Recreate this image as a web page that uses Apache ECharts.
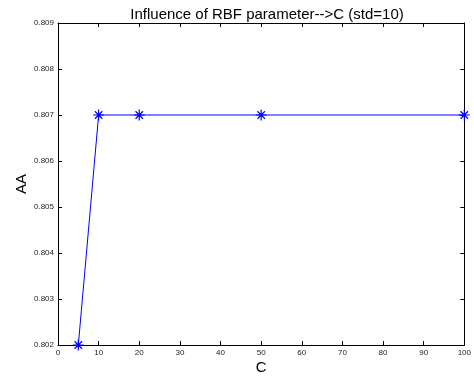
<!DOCTYPE html>
<html>
<head>
<meta charset="utf-8">
<script src="https://cdn.jsdelivr.net/npm/echarts@6/dist/echarts.min.js"></script>
<style>html,body{margin:0;padding:0;background:#fff}#c{width:474px;height:380px}</style>
</head>
<body>
<div id="c"></div>
<script>
const cValues = [5, 10, 20, 50, 100];
const aaValues = [0.802, 0.807, 0.807, 0.807, 0.807];
const xTicks = {min: 0, max: 100, interval: 10};
const yTicks = {min: 0.802, max: 0.809, interval: 0.001};
const titleText = 'Influence of RBF parameter-->C (std=10)';

const chart = echarts.init(document.getElementById('c'), null, {renderer: 'canvas'});
const font = 'Liberation Sans, Arial, Helvetica, sans-serif';
const star = 'path://M0 5 L10 5 M5 0 L5 10 M1.6 1.6 L8.4 8.4 M8.4 1.6 L1.6 8.4';
const tickIn = {show: true, inside: true, length: 4, lineStyle: {color: '#000', width: 1}};
const axisLine = {show: true, onZero: false, lineStyle: {color: '#000', width: 1}};
chart.setOption({
  backgroundColor: '#fff',
  animation: false,
  title: {
    text: titleText, left: 262, top: 2, textAlign: 'center',
    textStyle: {fontFamily: font, fontSize: 15, fontWeight: 'normal', color: '#000'}
  },
  grid: {left: 58, right: 7, top: 23, bottom: 34},
  xAxis: [{
    type: 'value', position: 'bottom', min: xTicks.min, max: xTicks.max, interval: xTicks.interval,
    name: 'C', nameLocation: 'middle', nameGap: 15, nameMoveOverlap: false,
    nameTextStyle: {fontFamily: font, fontSize: 15, color: '#000'},
    axisLine: axisLine, axisTick: tickIn, splitLine: {show: false},
    axisLabel: {fontFamily: font, fontSize: 8, color: '#222', margin: 4}
  }, {
    type: 'value', position: 'top', min: xTicks.min, max: xTicks.max, interval: xTicks.interval,
    axisLine: axisLine, axisTick: tickIn, splitLine: {show: false}, axisLabel: {show: false}
  }],
  yAxis: [{
    type: 'value', position: 'left', min: yTicks.min, max: yTicks.max, interval: yTicks.interval,
    name: 'AA', nameLocation: 'middle', nameGap: 29, nameMoveOverlap: false,
    nameTextStyle: {fontFamily: font, fontSize: 15, color: '#000'},
    axisLine: axisLine, axisTick: tickIn, splitLine: {show: false},
    axisLabel: {fontFamily: font, fontSize: 8, color: '#222', margin: 4, formatter: v => v.toFixed(3)}
  }, {
    type: 'value', position: 'right', min: yTicks.min, max: yTicks.max, interval: yTicks.interval,
    axisLine: axisLine, axisTick: tickIn, splitLine: {show: false}, axisLabel: {show: false}
  }],
  series: [{
    type: 'line', xAxisIndex: 0, yAxisIndex: 0,
    data: cValues.map((c, i) => [c, aaValues[i]]),
    clip: false,
    lineStyle: {color: '#0000ff', width: 1},
    symbol: star, symbolSize: 11,
    itemStyle: {color: 'none', borderColor: '#0000ff', borderWidth: 1.2},
    showAllSymbol: true
  }]
});
</script>
</body>
</html>
